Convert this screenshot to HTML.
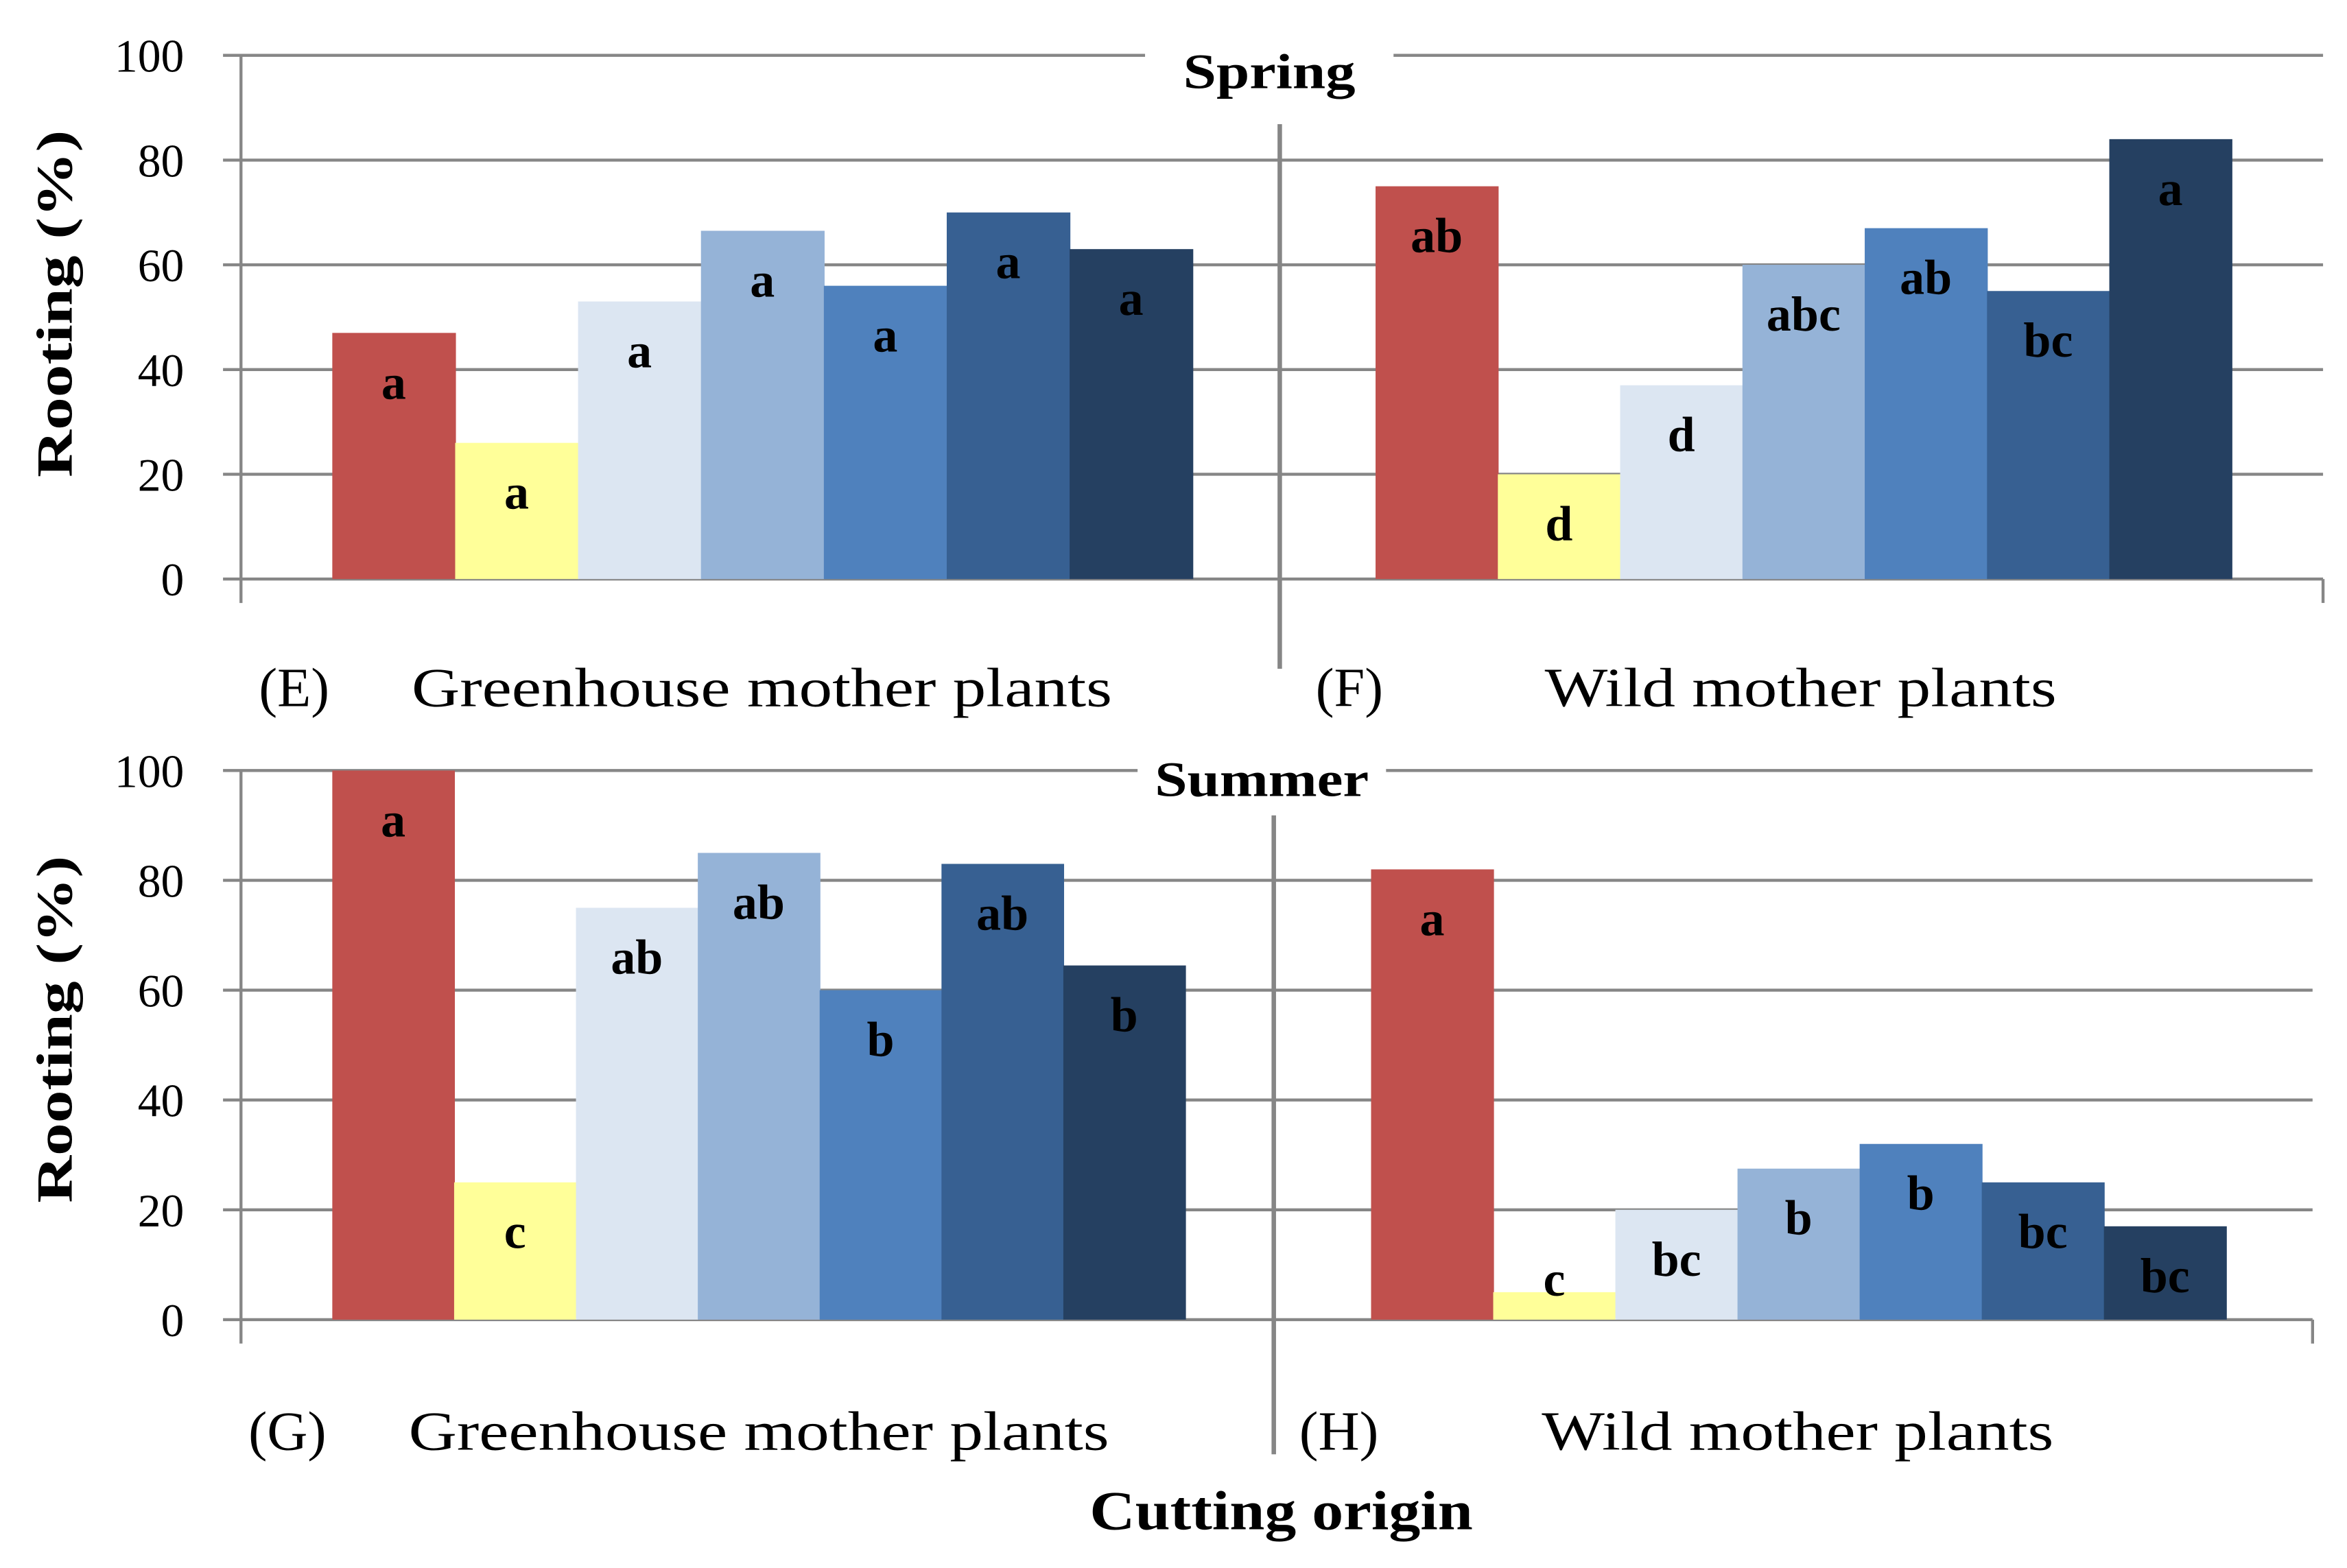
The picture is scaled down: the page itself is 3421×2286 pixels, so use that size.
<!DOCTYPE html>
<html><head><meta charset="utf-8"><style>
html,body{margin:0;padding:0;background:#fff;}
svg{display:block;font-family:"Liberation Serif",serif;}
</style></head><body>
<svg id="chart" width="3421" height="2286" viewBox="0 0 1568 1048" preserveAspectRatio="none" xmlns="http://www.w3.org/2000/svg"></svg>
<script>
const colors=["#C0504D","#FFFF99","#DCE6F2","#95B3D7","#4F81BD","#376092","#254061"];
const springGreenhouse=[47,26,53,66.5,56,70,63];
const springWild=[75,20,37,60,67,55,84];
const summerGreenhouse=[100,25,75,85,60,83,64.5];
const summerWild=[82,5,20,27.5,32,25,17];
const springGreenhouseLetters=["a","a","a","a","a","a","a"];
const springWildLetters=["ab","d","d","abc","ab","bc","a"];
const summerGreenhouseLetters=["a","c","ab","ab","b","ab","b"];
const summerWildLetters=["a","c","bc","b","b","bc","bc"];
const yTicks=[0,20,40,60,80,100];

const svg=document.getElementById('chart');
const NS="http://www.w3.org/2000/svg";
function mk(tag,attrs,text){const e=document.createElementNS(NS,tag);for(const k in attrs)e.setAttribute(k,attrs[k]);if(text!==undefined)e.textContent=text;svg.appendChild(e);return e;}

function panel(cfg){
  const y=v=>cfg.y0-(cfg.y0-cfg.y100)*v/100;
  yTicks.forEach(t=>{
    const l=mk('line',{x1:cfg.axL-12,x2:cfg.axR,y1:y(t),y2:y(t),stroke:'#868686','stroke-width':2});
    
    
    const tx=mk('text',{x:123,y:y(t)+11,'text-anchor':'end','font-size':31,fill:'#000'},String(t));
    
    
  });
  const ax=mk('line',{x1:cfg.axL,x2:cfg.axL,y1:cfg.y100,y2:cfg.y0+16,stroke:'#868686','stroke-width':2});
  
  
  const tk=mk('line',{x1:cfg.axR,x2:cfg.axR,y1:cfg.y0,y2:cfg.y0+16,stroke:'#868686','stroke-width':2});
  
  
  const groups=[[cfg.g1x,cfg.d1,cfg.l1,cfg.bw1],[cfg.g2x,cfg.d2,cfg.l2,cfg.bw2]];
  groups.forEach((g,gi)=>{
    g[1].forEach((v,i)=>{
      const x=g[0]+i*g[3];
      const r=mk('rect',{x:x,y:y(v),width:g[3]+0.5,height:y(0)-y(v),fill:colors[i]});
      
      
      const ly=Math.min(y(v)+44,y(0)-16);
      const t=mk('text',{x:x+g[3]/2,y:ly,'text-anchor':'middle','font-size':33,'font-weight':'bold',fill:'#000'},g[2][i]);
      
      
    });
  });
  const bg=mk('rect',{x:cfg.titleX-83,y:cfg.y100-20,width:166,height:40,fill:'#fff'});
  
  
  const tt=mk('text',{x:cfg.titleX,y:cfg.titleY,'text-anchor':'middle','font-size':33,'font-weight':'bold',textLength:cfg.titleW,lengthAdjust:'spacingAndGlyphs'},cfg.title);
  
  
  const dv=mk('line',{x1:cfg.divX,x2:cfg.divX,y1:cfg.divY1,y2:cfg.divY2,stroke:'#868686','stroke-width':3});
  
  
  const yt=mk('text',{x:0,y:0,'text-anchor':'middle','font-size':34,'font-weight':'bold',textLength:232,lengthAdjust:'spacingAndGlyphs',transform:'translate(48,'+cfg.yTitleY+') rotate(-90)'},'Rooting  (%)');
  
  
  cfg.labels.forEach(L=>{const t=mk('text',{x:L[0],y:cfg.labelY,'font-size':37,textLength:L[2],lengthAdjust:'spacingAndGlyphs'},L[1]);
    
    });
}
panel({name:'spring',y0:387,y100:37,axL:161,axR:1552,g1x:222,bw1:82.1,g2x:919,bw2:81.7,
  d1:springGreenhouse,d2:springWild,l1:springGreenhouseLetters,l2:springWildLetters,
  title:'Spring',titleX:848,titleY:59,titleW:115,divX:855,divY1:83,divY2:447,yTitleY:203,labelY:472,
  labels:[[173,'(E)',47],[275,'Greenhouse mother plants',468],[879,'(F)',45],[1032,'Wild mother plants',342]]});
panel({name:'summer',y0:882,y100:515,axL:161,axR:1545,g1x:222,bw1:81.4,g2x:916,bw2:81.6,
  d1:summerGreenhouse,d2:summerWild,l1:summerGreenhouseLetters,l2:summerWildLetters,
  title:'Summer',titleX:843,titleY:532,titleW:143,divX:851,divY1:545,divY2:972,yTitleY:688,labelY:969,
  labels:[[166,'(G)',52],[273,'Greenhouse mother plants',468],[868,'(H)',53],[1030,'Wild mother plants',342]]});
const xt=mk('text',{x:856,y:1022,'text-anchor':'middle','font-size':37,'font-weight':'bold',textLength:256,lengthAdjust:'spacingAndGlyphs'},'Cutting origin');


</script>
</body></html>
